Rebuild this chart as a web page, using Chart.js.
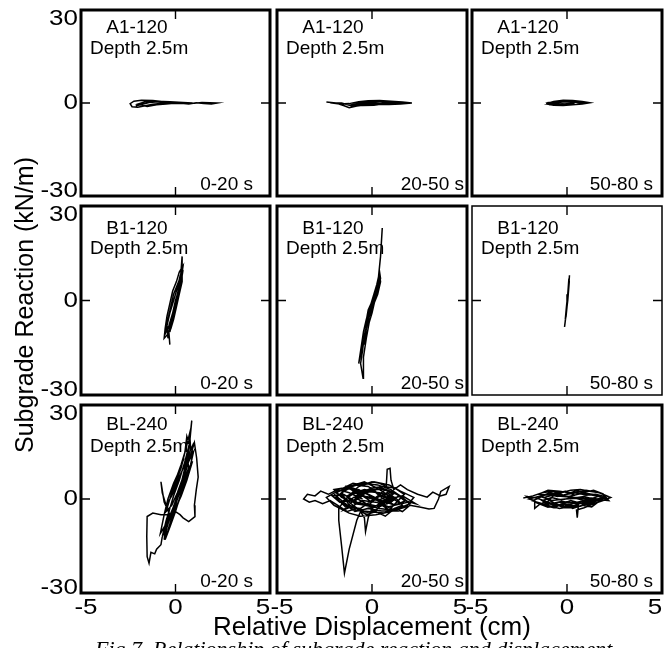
<!DOCTYPE html>
<html><head><meta charset="utf-8">
<script src="https://cdn.jsdelivr.net/npm/chart.js@4.4.1/dist/chart.umd.min.js"></script>
<style>
html,body{margin:0;padding:0;background:#fff;}
#wrap{position:relative;width:669px;height:648px;overflow:hidden;background:#fff;}
#wrap canvas{position:absolute;left:0;top:0;}
</style></head><body><div id="wrap"></div>
<script>
// ---------- data ----------
const xTicks = [-5, 0, 5];
const yTicks = [-30, 0, 30];
const specimens = ["A1-120", "B1-120", "BL-240"];
const depthLabel = "Depth 2.5m";
const windows = ["0-20 s", "20-50 s", "50-80 s"];
const xTitle = "Relative Displacement (cm)";
const yTitle = "Subgrade Reaction (kN/m)";
const caption = "Fig.7. Relationship of subgrade reaction and displacement";

// [relative displacement (cm), subgrade reaction (kN/m)]
const a1_0_20 = [[-0.5,0.3],[-1.2,0.8],[-1.8,0.9],[-2.2,0.6],[-2.4,-0.2],[-2.3,-1.2],[-2.0,-1.4],[-1.6,-0.9],[-1.2,-0.4],[-0.8,-0.2],[-0.3,-0.1],[0.2,-0.2],[0.6,0.1],[1.0,-0.1],[1.4,0.2],[1.8,0.1],[2.2,0.0],[1.9,-0.3],[1.5,-0.2],[1.1,0.1],[0.7,-0.3],[0.3,-0.1],[-0.2,0.2],[-0.7,0.5],[-1.3,0.3],[-1.7,-0.3],[-2.1,-0.9],[-1.8,-0.5],[-1.4,0.2],[-0.9,0.4],[-0.4,0.1],[0.1,0.0],[0.5,-0.2],[0.9,0.0],[0.4,0.2],[-0.3,0.4],[-1.0,0.6],[-1.6,0.4],[-2.0,-0.4],[-1.5,-1.1],[-1.0,-0.6],[-0.5,-0.3],[0.2,0.1]];
const a1_20_50 = [[-2.4,0.3],[-1.9,0.0],[-1.5,-0.8],[-1.2,-1.5],[-0.8,-1.0],[-0.3,-0.6],[0.3,-0.4],[0.9,-0.5],[1.5,-0.3],[2.1,0.0],[1.6,0.3],[1.0,0.6],[0.4,0.8],[-0.2,0.7],[-0.7,0.4],[-1.2,-0.2],[-1.7,-0.3],[-2.2,0.1],[-1.6,0.0],[-1.1,-0.9],[-0.6,-0.3],[0.0,0.2],[0.6,0.4],[1.2,0.2],[1.8,-0.1],[1.3,-0.4],[0.7,-0.2],[0.1,-0.7],[-0.5,-0.8],[-1.0,-0.5],[-0.4,0.3],[0.2,0.5],[0.8,0.1],[1.4,0.4],[0.9,-0.3],[0.3,-0.2],[-0.3,0.1],[-0.9,-0.7],[-0.4,-0.4],[0.5,0.6],[1.1,0.0]];
const a1_50_80 = [[-1.1,-0.2],[-0.7,0.5],[-0.2,0.9],[0.3,0.8],[0.8,0.5],[1.2,0.1],[0.8,-0.3],[0.3,-0.6],[-0.2,-0.8],[-0.7,-0.7],[-1.0,-0.4],[-0.6,0.1],[-0.1,0.4],[0.4,0.3],[0.9,0.0],[0.5,-0.4],[0.0,-0.5],[-0.5,-0.2],[-0.9,0.2],[-0.4,0.6],[0.2,0.5],[0.7,0.2],[1.0,-0.1],[0.6,0.4],[0.0,0.7],[-0.6,0.3],[-0.8,-0.5],[-0.2,-0.3],[0.4,-0.1]];
const b1_0_20 = [[-0.3,-14],[-0.35,-10],[-0.2,-6],[-0.05,-2],[0.1,2],[0.25,6],[0.3,10],[0.35,14],[0.35,10],[0.35,6],[0.2,2],[0.05,-2],[-0.1,-6],[-0.25,-9],[-0.45,-11],[-0.6,-12],[-0.55,-9],[-0.45,-5],[-0.3,-1],[-0.15,3],[0.05,6],[0.2,9],[0.4,11],[0.3,7],[0.15,3],[0.0,0],[-0.15,-4],[-0.35,-8],[-0.5,-10],[-0.4,-6],[-0.25,-2],[-0.1,2],[0.1,5],[0.3,8],[0.2,4],[0.05,1],[-0.1,-3],[-0.3,-7],[-0.4,-12],[-0.45,-8],[-0.3,-4],[-0.1,0],[0.1,4],[0.25,8],[0.38,9],[0.25,4],[0.1,0],[-0.1,-5],[-0.3,-10]];
const b1_20_50 = [[0.54,23],[0.45,14],[0.35,8],[0.3,5],[0.15,1],[-0.05,-3],[-0.25,-7],[-0.4,-11],[-0.5,-16],[-0.6,-20],[-0.47,-24.7],[-0.45,-18],[-0.3,-12],[-0.15,-7],[0.0,-4],[0.15,0],[0.3,4],[0.45,7],[0.4,9],[0.25,5],[0.1,2],[-0.1,-2],[-0.3,-6],[-0.45,-10],[-0.55,-14],[-0.7,-20],[-0.6,-17],[-0.45,-13],[-0.3,-9],[-0.15,-5],[0.05,-1],[0.2,3],[0.4,8],[0.45,6],[0.3,2],[0.1,-1],[-0.1,-4],[-0.3,-9],[-0.4,-14],[-0.35,-10],[-0.2,-5],[0.0,-1],[0.2,2],[0.35,5],[0.42,7],[0.25,3],[0.05,-2],[-0.2,-6],[-0.35,-8],[-0.2,-3],[0.1,1]];
const b1_50_80 = [[0.13,8],[0.1,5],[0.05,2],[0.0,-1],[-0.05,-4],[-0.1,-7],[-0.13,-8.4],[-0.08,-6],[-0.02,-3],[0.04,0],[0.08,3],[0.12,6],[0.1,7],[0.04,2],[-0.03,-2],[-0.09,-6],[-0.05,-5],[0.0,-2],[0.06,2]];
const bl_0_20 = [[0,0],[0.3,5],[0.5,10],[0.7,16],[0.86,25],[0.75,18],[0.5,12],[0.2,6],[-0.1,1],[-0.3,-3],[-0.5,-7],[-0.7,-12],[-0.4,-8],[-0.1,-3],[0.2,2],[0.5,8],[0.8,14],[1.0,18],[1.12,13],[1.2,7],[1.1,3],[1.0,-2],[1.03,-5.6],[0.7,-7.2],[0.4,-6],[0.24,-5],[0.0,-4],[-0.3,-5],[-0.77,-5],[-1.2,-4.5],[-1.5,-5.6],[-1.52,-12],[-1.5,-18.4],[-1.4,-20.5],[-1.3,-17],[-1.1,-17.5],[-1.0,-16],[-0.77,-14.6],[-0.7,-12],[-0.5,-9],[-0.3,-5],[-0.6,-1],[-0.77,5.5],[-0.7,2],[-0.5,-2],[-0.2,1],[0.0,4],[0.3,8],[0.6,14],[0.7,10],[0.4,5],[0.1,0],[-0.2,-6],[-0.4,-10],[-0.2,-7],[0.1,-2],[0.4,3],[0.7,9],[0.9,12],[0.6,6],[0.3,1],[0.0,-3],[-0.3,-8],[-0.55,-13],[-0.3,-9],[0.0,-4],[0.3,2],[0.55,7],[0.8,11],[0.95,15],[0.7,12],[0.4,7],[0.1,2],[-0.2,-2],[-0.5,-4],[-0.3,0],[-0.1,3],[0.2,7],[0.5,11],[0.75,17],[0.6,20],[0.5,15],[0.3,10],[0.0,5],[-0.3,0],[0.0,6],[0.3,11],[0.55,16],[0.75,21],[0.8,16],[0.6,11],[0.35,6],[0.1,1],[-0.2,-4],[-0.45,-9],[-0.6,-13],[-0.5,-8],[-0.3,-3],[0.0,3],[0.35,9],[0.6,13],[0.9,17],[0.85,12],[0.6,7],[0.3,3],[0.0,-1],[-0.35,-6],[-0.6,-9],[-0.8,-11],[-0.6,-5],[-0.4,0],[-0.1,5],[0.2,9],[0.45,13]];
const bl_20_50 = [[-0.5,0],[-1.2,2],[-1.8,3],[-2.3,1.5],[-2.7,2.5],[-3.0,1],[-3.4,1.5],[-3.6,0],[-3.3,-1],[-3.0,-0.5],[-2.6,-1.5],[-2.2,-0.5],[-1.8,-2],[-1.3,-4],[-0.8,-3],[-0.3,-5],[0.2,-4],[0.7,-5.5],[1.2,-3],[1.6,-4],[2.0,-2],[2.57,-2.6],[3.0,-3.2],[3.27,-3],[3.5,0],[3.62,2.4],[4.06,4],[3.9,1.5],[3.6,1],[3.2,2.2],[2.9,0.6],[2.4,1.5],[1.86,3],[1.5,4.5],[1.15,3],[1.0,6],[0.95,9.8],[0.8,9.5],[0.75,4],[0.4,5],[0,5.5],[-0.5,4.5],[-1.0,5],[-1.5,3.5],[-2.0,3],[-1.6,0.5],[-1.0,-1],[-0.5,1],[0,-1],[0.5,2],[1.0,-1],[1.4,1],[1.8,-0.5],[1.2,-2],[0.6,0],[0.1,2.5],[-0.4,3],[-0.9,2],[-1.4,0],[-1.75,-3],[-1.75,-6.8],[-1.6,-15],[-1.45,-23.7],[-1.2,-16],[-0.8,-6.8],[-0.6,-4],[-0.4,-6],[-0.34,-10.4],[-0.2,-6],[0.0,-3],[0.4,-1.5],[0.9,-3.5],[1.3,-1],[1.7,1.5],[1.2,3.5],[0.6,4],[0.0,3.5],[-0.6,2],[-1.2,-0.5],[-1.7,-1],[-2.1,1],[-1.5,1.5],[-0.8,-1],[-0.2,-2],[0.3,0.5],[0.8,2],[1.3,0],[1.6,-2],[1.0,-3.5],[0.4,-3],[-0.3,-2],[-0.9,-1.5],[-1.3,1],[-0.7,3],[-0.1,1],[0.5,-1],[1.1,1.5],[0.7,3],[0.1,0],[-0.6,-3],[-1.4,-2.5],[-1.9,0.5],[-1.3,3.5],[-0.5,5],[0.3,4.5],[1.0,3],[1.6,0.5],[2.0,-1.5],[1.4,-3],[0.6,-4.5],[-0.2,-4],[-1.0,-3.5],[-1.6,-1],[-1.1,1.5],[-0.4,2.5],[0.4,2],[1.2,0.5],[0.8,-1.5],[0.0,-2.5],[-0.8,-1.5],[-1.3,0.5],[-0.7,4],[0.1,5.5],[0.9,4.5],[1.5,2.5],[2.2,0.5],[1.8,-2.5],[1.0,-4],[0.2,-5],[-0.6,-5.5],[-1.2,-4.5],[-2.0,-2],[-2.4,0.5],[-1.8,2.5],[-1.0,3.5],[-0.2,1.5],[0.5,-0.5],[1.2,-2],[1.9,-1],[1.3,1.5],[0.6,3],[-0.1,3],[-0.9,0.5],[-0.3,-1.5],[0.4,-2.5],[1.1,-0.5],[0.5,1],[-0.2,4],[-0.9,4.5],[-1.6,2],[-1.2,-2],[-0.5,-3.5],[0.3,-2],[1.0,0.5],[1.5,-1.5],[0.9,-2.5],[0.2,-1],[-0.5,-0.5],[-1.1,-2.5],[-1.5,-3.5],[-0.9,0],[-0.3,2],[0.5,3.5],[1.2,2],[1.7,-0.5],[2.3,-1.5],[1.6,1],[0.9,0],[0.2,-3.5],[-0.4,-4.5],[-1.0,-2],[-1.6,1],[-1.9,2],[-1.2,4],[-0.4,5.5],[0.4,3],[0.9,1],[0.3,-0.5],[-0.3,0.5],[-0.8,2.5],[-1.4,4.2],[-0.6,1],[0.0,0.5],[0.8,-2.5],[1.3,-3.8],[0.5,-3.8],[-0.2,-3],[-0.9,-4],[-1.4,-1.5],[-2.0,1.5]];
const bl_50_80 = [[-2.3,0.3],[-1.8,1],[-1.3,2],[-0.8,2.5],[-0.3,2],[0.2,2.8],[0.7,3],[1.2,2.5],[1.7,2],[2.3,0.5],[1.9,-0.5],[1.4,-1.5],[0.9,-2.8],[0.5,-3.5],[0.54,-6],[0.6,-2],[0.1,-2.5],[-0.4,-3],[-0.9,-2.2],[-1.4,-1.5],[-1.7,-3],[-1.7,-0.5],[-2.0,0],[-1.5,0.8],[-1.0,1.5],[-0.5,0.8],[0,1.5],[0.5,2],[1.0,1.2],[1.5,1.5],[2.0,0.8],[1.6,-0.5],[1.1,-1.8],[0.6,-1],[0.1,-1.8],[-0.4,-1],[-0.9,-1.5],[-1.3,-0.5],[-0.8,0.5],[-0.3,-0.3],[0.3,0.5],[0.8,-0.3],[1.3,0.3],[1.8,-0.2],[1.3,-2.5],[0.8,-2],[0.3,-3],[-0.2,-1.5],[-0.7,-2.8],[-1.2,-2],[-0.6,1.8],[-0.1,2.5],[0.4,1.2],[0.9,2.2],[1.4,2.8],[1.9,1.6],[2.2,-0.5],[-1.5,1.5],[-1.0,2.8],[-0.4,2.5],[0.3,1.8],[1.0,2.8],[1.6,2.2],[2.1,1],[1.7,0.2],[1.0,-0.8],[0.4,-2],[-0.3,-2.4],[-1.0,-1],[-1.6,0.3],[-2.1,0.8],[-1.6,-1.2],[-1.0,-2.6],[-0.4,-1.8],[0.2,-0.5],[0.8,-1.5],[1.4,-0.8],[2.0,0.3],[1.5,1],[0.8,1.8],[0.1,0.8],[-0.6,1.5],[-1.2,0.5],[-0.7,-1.2],[0.0,-2.8],[0.7,-2.3],[1.2,-1.2],[0.6,0.2],[-0.1,0],[-0.8,-0.5],[-1.4,0.8],[-0.9,2],[-0.2,1.2],[0.5,2.6],[1.1,1.8],[1.7,1],[1.1,-0.3],[0.4,-1.2],[-0.3,-0.8],[-1.1,-1.8],[-1.8,-0.6],[-1.2,1.2],[-0.5,2],[0.2,0.2],[0.9,0.8],[1.5,-0.2],[0.9,-1.2],[0.2,-1.4],[-0.5,-2.2],[-1.3,-1]];

const series = [
  [a1_0_20, a1_20_50, a1_50_80],
  [b1_0_20, b1_20_50, b1_50_80],
  [bl_0_20, bl_20_50, bl_50_80]
];

// ---------- layout (pixels) ----------
const W = 669, H = 648;
const colBox = [[81, 270], [277, 467], [472, 662]];
const rowBox = [[10, 196], [206, 395], [405, 593]];
const textBase = [[23, 44], [28, 48], [25, 47]];
const winRight = [17, 3, 9];
const FONT = '"Liberation Sans", Arial, Helvetica, sans-serif';

function stretched(ctx, txt, x, y, align, sx) {
  ctx.save();
  ctx.translate(x, y);
  ctx.scale(sx, 1);
  ctx.textAlign = align;
  ctx.fillText(txt, 0, 0);
  ctx.restore();
}

const panelPlugin = {
  id: 'panel',
  afterDatasetsDraw(chart, args, o) {
    const ctx = chart.ctx, a = chart.chartArea, xs = chart.scales.x, ys = chart.scales.y;
    ctx.save();
    ctx.strokeStyle = '#000';
    ctx.fillStyle = '#000';
    ctx.lineWidth = o.bw;
    ctx.strokeRect(a.left, a.top, a.right - a.left, a.bottom - a.top);
    const x0 = xs.getPixelForValue(0), y0 = ys.getPixelForValue(0);
    ctx.lineWidth = 1.4;
    ctx.beginPath();
    ctx.moveTo(x0, a.top); ctx.lineTo(x0, a.top + 9);
    ctx.moveTo(x0, a.bottom); ctx.lineTo(x0, a.bottom - 9);
    ctx.moveTo(a.left, y0); ctx.lineTo(a.left + 9, y0);
    ctx.moveTo(a.right, y0); ctx.lineTo(a.right - 9, y0);
    ctx.stroke();
    ctx.font = '19px ' + FONT;
    ctx.textBaseline = 'alphabetic';
    ctx.textAlign = 'center';
    ctx.fillText(o.spec, a.left + 56, a.top + o.tb[0]);
    ctx.textAlign = 'left';
    ctx.fillText(depthLabel, a.left + 9, a.top + o.tb[1]);
    ctx.textAlign = 'right';
    ctx.fillText(o.win, a.right - o.wr, a.bottom - 6);
    ctx.font = '22px ' + FONT;
    ctx.textBaseline = 'middle';
    if (o.yLabels) {
      yTicks.forEach(v => {
        let py = ys.getPixelForValue(v);
        if (v === ys.max) py += 9;
        if (v === ys.min) py -= 5;
        stretched(ctx, String(v), a.left - 3, py, 'right', 1.18);
      });
    }
    if (o.xLabels) {
      xTicks.forEach(v => {
        let px = xs.getPixelForValue(v);
        if (v === xs.min) px += 5;
        if (v === xs.max) px -= 7;
        stretched(ctx, String(v), px, a.bottom + 15, 'center', 1.18);
      });
    }
    if (o.titles) {
      ctx.font = '25px ' + FONT;
      ctx.textAlign = 'center';
      ctx.textBaseline = 'alphabetic';
      stretched(ctx, xTitle, 372, 635, 'center', 1.04);
      ctx.save();
      ctx.translate(33, 305);
      ctx.rotate(-Math.PI / 2);
      ctx.fillText(yTitle, 0, 0);
      ctx.restore();
      ctx.font = 'italic 22px "Liberation Serif", "Times New Roman", serif';
      ctx.textAlign = 'left';
      ctx.fillText(caption, 95, 656);
    }
    ctx.restore();
  }
};

const wrap = document.getElementById('wrap');
for (let r = 0; r < 3; r++) {
  for (let c = 0; c < 3; c++) {
    const cv = document.createElement('canvas');
    cv.width = W; cv.height = H;
    cv.style.width = W + 'px'; cv.style.height = H + 'px';
    wrap.appendChild(cv);
    const [L, R] = colBox[c], [T, B] = rowBox[r];
    const pts = series[r][c];
    new Chart(cv, {
      type: 'scatter',
      data: { datasets: [{
        data: pts.map(p => ({ x: p[0], y: p[1] })),
        showLine: true, borderColor: '#000', borderWidth: 1.5,
        pointRadius: 0, tension: 0, fill: false
      }] },
      options: {
        responsive: false, animation: false, devicePixelRatio: 1,
        layout: { padding: { left: L, top: T, right: W - R, bottom: H - B } },
        plugins: {
          legend: { display: false }, tooltip: { enabled: false },
          panel: { bw: (r === 1 && c === 2) ? 1.5 : 3, spec: specimens[r], win: windows[c],
                   tb: textBase[r], wr: winRight[c], yLabels: c === 0, xLabels: r === 2,
                   titles: r === 2 && c === 0 }
        },
        scales: {
          x: { type: 'linear', min: -5, max: 5, grid: { display: false }, border: { display: false },
               ticks: { display: false },
               afterBuildTicks: s => { s.ticks = xTicks.map(v => ({ value: v })); },
               afterFit: s => { s.height = 0; } },
          y: { type: 'linear', min: -30, max: 30, grid: { display: false }, border: { display: false },
               ticks: { display: false },
               afterBuildTicks: s => { s.ticks = yTicks.map(v => ({ value: v })); },
               afterFit: s => { s.width = 0; } }
        }
      },
      plugins: [panelPlugin]
    });
  }
}
</script></body></html>
